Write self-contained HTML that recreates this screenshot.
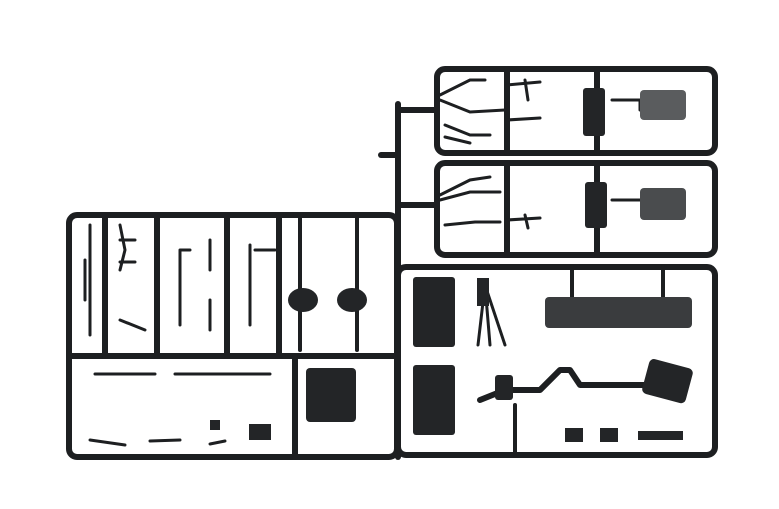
<!DOCTYPE html>
<html><head><meta charset="utf-8"><style>html,body{margin:0;padding:0;background:#fff;width:779px;height:509px;overflow:hidden}</style></head>
<body>
<svg width="779" height="509" viewBox="0 0 779 509" xmlns="http://www.w3.org/2000/svg">
<g fill="none" stroke="#1d1f21" stroke-width="6" stroke-linecap="round" stroke-linejoin="round">
<rect x="69" y="215" width="328" height="242" rx="8"/>
<line x1="69" y1="356" x2="397" y2="356"/>
<line x1="105" y1="215" x2="105" y2="356"/>
<line x1="157" y1="215" x2="157" y2="356"/>
<line x1="227" y1="215" x2="227" y2="356"/>
<line x1="279" y1="215" x2="279" y2="356"/>
<line x1="295" y1="356" x2="295" y2="457"/>
<line x1="398" y1="104" x2="398" y2="457"/>
<line x1="381" y1="155" x2="398" y2="155"/>
<line x1="398" y1="110" x2="437" y2="110"/>
<line x1="398" y1="205" x2="437" y2="205"/>
<rect x="398" y="267" width="317" height="188" rx="8"/>
<rect x="437" y="69" width="278" height="84" rx="8"/>
<rect x="437" y="163" width="278" height="92" rx="8"/>
<line x1="507" y1="69" x2="507" y2="153"/>
<line x1="597" y1="69" x2="597" y2="153"/>
<line x1="507" y1="163" x2="507" y2="255"/>
<line x1="597" y1="163" x2="597" y2="255"/>
</g>
<g fill="none" stroke="#1d1f21" stroke-width="4" stroke-linecap="round">
<line x1="572" y1="267" x2="572" y2="302"/>
<line x1="663" y1="267" x2="663" y2="302"/>
<line x1="515" y1="405" x2="515" y2="455"/>
<line x1="300" y1="218" x2="300" y2="350"/>
<line x1="357" y1="218" x2="357" y2="350"/>
</g>
<g fill="none" stroke="#1d1f21" stroke-width="3" stroke-linecap="round">
<path d="M440 95 L470 80 L485 80 M440 100 L470 112 L505 110 M445 125 L470 135 L490 135 M445 137 L470 143"/>
<path d="M507 85 L540 82 M525 80 L528 100 M507 120 L540 118"/>
<path d="M440 195 L470 180 L490 177 M440 200 L470 192 L500 192 M445 225 L475 222 L500 222 M507 220 L540 218 M525 215 L528 228"/>
<path d="M612 100 L640 100 L640 110 M612 200 L640 200"/>
<path d="M90 225 L90 335 M85 260 L85 300 M120 225 L125 250 L120 270 M120 240 L135 240 M120 262 L135 262 M120 320 L145 330 M180 250 L180 325 M180 250 L190 250 M210 240 L210 270 M210 300 L210 330 M250 245 L250 325 M255 250 L275 250"/>
<path d="M95 374 L155 374 M175 374 L270 374 M90 440 L125 445 M150 441 L180 440 M210 444 L225 441"/>
<path d="M485 285 L478 345 M485 285 L505 345 M485 285 L490 345"/>
</g>
<path d="M480 400 L505 390 L540 390 L560 370 L570 370 L580 385 L630 385 L650 385" fill="none" stroke="#1d1f21" stroke-width="6" stroke-linecap="round" stroke-linejoin="round"/>
<g fill="#232527">
<rect x="583" y="88" width="22" height="48" rx="3"/>
<rect x="585" y="182" width="22" height="46" rx="3"/>
<rect x="640" y="90" width="46" height="30" rx="4" fill="#5a5c5e"/>
<rect x="640" y="188" width="46" height="32" rx="4" fill="#4a4c4e"/>
<rect x="413" y="277" width="42" height="70" rx="3"/>
<rect x="413" y="365" width="42" height="70" rx="3"/>
<rect x="306" y="368" width="50" height="54" rx="4"/>
<rect x="545" y="297" width="147" height="31" rx="4" fill="#3a3c3e"/>
<rect x="645" y="363" width="45" height="36" rx="5" transform="rotate(15 667 381)"/>
<rect x="495" y="375" width="18" height="25" rx="3"/>
<ellipse cx="303" cy="300" rx="15" ry="12"/>
<ellipse cx="352" cy="300" rx="15" ry="12"/>
<rect x="565" y="428" width="18" height="14"/>
<rect x="600" y="428" width="18" height="14"/>
<rect x="638" y="431" width="45" height="9"/>
<rect x="249" y="424" width="22" height="16"/>
<rect x="477" y="278" width="12" height="28"/>
<rect x="210" y="420" width="10" height="10"/>
</g>
</svg>
</body></html>
